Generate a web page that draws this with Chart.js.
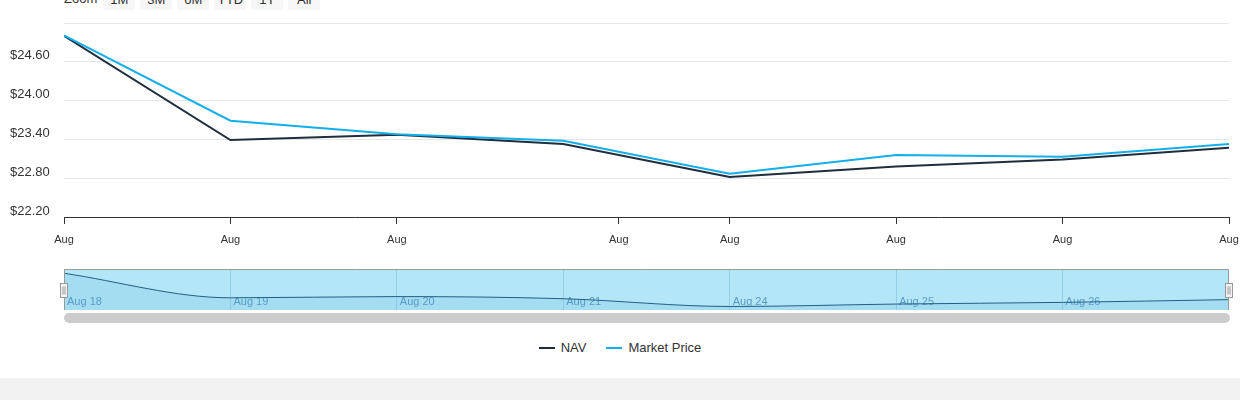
<!DOCTYPE html>
<html>
<head>
<meta charset="utf-8">
<script src="https://cdn.jsdelivr.net/npm/chart.js@4"></script>
<style>
  body { margin: 0; width: 1240px; height: 400px; overflow: hidden; background: #fff;
         font-family: "Liberation Sans", Arial, sans-serif; position: relative; }
  #zoomBar { position: absolute; top: -12px; left: 64px; height: 22px; line-height: 22px;
             font-size: 13px; color: #333; display: flex; }
  #zoomBar span { margin-right: 6px; }
  #zoomBar button { width: 32px; height: 22px; margin-right: 5px; border: 0; border-radius: 2px;
                    background: #f7f7f7; color: #333; font: 13px "Liberation Sans", Arial, sans-serif; padding: 0; }
  #mainWrap { position: absolute; top: 0; left: 0; width: 1240px; height: 255px; }
  #navWrap { position: absolute; top: 269px; left: 0; width: 1240px; height: 41px; }
  #scrollbar { position: absolute; top: 313px; left: 64px; width: 1166px; height: 10px;
               border-radius: 5px; background: #cccccc; }
  #legend { position: absolute; top: 340px; left: 0; width: 1240px; height: 16px;
            display: flex; justify-content: center; font-size: 13px; color: #333; }
  .item { display: flex; align-items: center; margin: 0 10px; line-height: 16px; }
  .item i { display: inline-block; width: 16px; height: 2px; margin-right: 6px; }
  #band { position: absolute; top: 378px; left: 0; width: 1240px; height: 22px; background: #f2f2f2; }
</style>
</head>
<body>
<div id="zoomBar">
  <span>Zoom</span>
  <button>1M</button><button>3M</button><button>6M</button><button>YTD</button><button>1Y</button><button>All</button>
</div>
<div id="mainWrap"><canvas id="chartMain"></canvas></div>
<div id="navWrap"><canvas id="chartNav"></canvas></div>
<div id="scrollbar"></div>
<div id="legend"><span class="item"><i style="background:#1f2d3d"></i>NAV</span><span class="item"><i style="background:#14aee8"></i>Market Price</span></div>
<div id="band"></div>

<script>
// Dados (dias de agosto, eixo ordinal: só dias com cotação)
const days = [18, 19, 20, 21, 24, 25, 26, 27];
const navValues = [25.00, 23.39, 23.47, 23.33, 22.82, 22.98, 23.09, 23.27];
const marketValues = [25.01, 23.69, 23.48, 23.38, 22.87, 23.16, 23.13, 23.33];
const xTickDays = [18, 19, 20, 22, 24, 25, 26, 27];
const navigatorLabelDays = [18, 19, 20, 21, 24, 25, 26];
const yMin = 22.2, yMax = 25.2, yStep = 0.6;

const navColor = "#1f2d3d";
const marketColor = "#14aee8";

// posição ordinal de um dia (interpola entre dias com dados)
function ordinal(day) {
  for (let i = 0; i < days.length - 1; i++) {
    if (day >= days[i] && day <= days[i + 1]) {
      return i + (day - days[i]) / (days[i + 1] - days[i]);
    }
  }
  return days.length - 1;
}
function toPoints(values) {
  return values.map((v, i) => ({ x: i, y: v }));
}

Chart.defaults.font.family = '"Liberation Sans", Arial, sans-serif';
Chart.defaults.color = "#333";

new Chart(document.getElementById("chartMain"), {
  type: "line",
  data: {
    datasets: [
      {
        label: "NAV",
        data: toPoints(navValues),
        borderColor: navColor,
        backgroundColor: navColor,
        borderWidth: 2,
        pointRadius: 0,
        order: 1,
      },
      {
        label: "Market Price",
        data: toPoints(marketValues),
        borderColor: marketColor,
        backgroundColor: marketColor,
        borderWidth: 2,
        pointRadius: 0,
        order: 0,
      },
    ],
  },
  options: {
    responsive: true,
    maintainAspectRatio: false,
    animation: false,
    layout: { padding: { left: 10, right: 11, top: 23, bottom: 0 } },
    plugins: { legend: { display: false }, tooltip: { enabled: false } },
    scales: {
      x: {
        type: "linear",
        min: 0,
        max: days.length - 1,
        afterBuildTicks: (scale) => {
          scale.ticks = xTickDays.map((d) => ({ value: ordinal(d) }));
        },
        afterFit: (scale) => {
          scale.height = 38;
          scale.paddingLeft = 0;
          scale.paddingRight = 0;
        },
        ticks: {
          callback: () => "Aug",
          font: { size: 11 },
          color: "#333",
          padding: 9,
          maxRotation: 0,
          autoSkip: false,
        },
        grid: { drawOnChartArea: false, drawTicks: true, tickLength: 7, tickColor: "#333" },
        border: { color: "#333", width: 1 },
      },
      y: {
        min: yMin,
        max: yMax,
        afterBuildTicks: (scale) => {
          const t = [];
          for (let i = 0; yMin + i * yStep <= yMax + 1e-9; i++) t.push({ value: +(yMin + i * yStep).toFixed(2) });
          scale.ticks = t;
        },
        afterFit: (scale) => { scale.width = 54; },
        ticks: {
          callback: (v) => (Math.abs(v - yMax) < 1e-6 ? "" : "$" + v.toFixed(2)),
          font: { size: 13 },
          color: "#333",
          crossAlign: "far",
          labelOffset: -6,
        },
        grid: { color: "#e6e6e6", drawTicks: false },
        border: { display: false },
      },
    },
  },
});

// Navegador (mini gráfico com máscara e alças)
const navigatorDecor = {
  id: "navigatorDecor",
  beforeDraw(chart) {
    const a = chart.chartArea, ctx = chart.ctx;
    ctx.save();
    ctx.fillStyle = "#b3e6f7";
    ctx.fillRect(a.left, a.top, a.right - a.left, a.bottom - a.top);
    ctx.restore();
  },
  afterDraw(chart) {
    const a = chart.chartArea, ctx = chart.ctx;
    ctx.save();
    ctx.strokeStyle = "#999";
    ctx.lineWidth = 1;
    ctx.beginPath();
    ctx.moveTo(a.left + 0.5, a.bottom);
    ctx.lineTo(a.left + 0.5, a.top + 0.5);
    ctx.lineTo(a.right - 0.5, a.top + 0.5);
    ctx.lineTo(a.right - 0.5, a.bottom);
    ctx.stroke();
    [a.left, a.right].forEach((x) => {
      const hx = Math.round(x) - 3.5, hy = 14.5;
      ctx.fillStyle = "#f2f2f2";
      ctx.fillRect(hx, hy, 7, 14);
      ctx.strokeRect(hx, hy, 7, 14);
      ctx.beginPath();
      ctx.moveTo(hx + 2.5, hy + 3); ctx.lineTo(hx + 2.5, hy + 11);
      ctx.moveTo(hx + 4.5, hy + 3); ctx.lineTo(hx + 4.5, hy + 11);
      ctx.stroke();
    });
    ctx.restore();
  },
};

new Chart(document.getElementById("chartNav"), {
  type: "line",
  data: {
    datasets: [
      {
        label: "NAV",
        data: toPoints(navValues),
        borderColor: "#235f85",
        backgroundColor: "rgba(70, 160, 205, 0.13)",
        borderWidth: 1,
        pointRadius: 0,
        fill: "start",
        cubicInterpolationMode: "monotone",
      },
    ],
  },
  options: {
    responsive: true,
    maintainAspectRatio: false,
    animation: false,
    layout: { padding: { left: 64, right: 11, top: 0, bottom: 0 } },
    plugins: { legend: { display: false }, tooltip: { enabled: false } },
    scales: {
      x: {
        type: "linear",
        min: 0,
        max: days.length - 1,
        afterBuildTicks: (scale) => {
          scale.ticks = navigatorLabelDays.map((d) => ({ value: ordinal(d) }));
        },
        afterFit: (scale) => {
          scale.height = 0;
          scale.paddingLeft = 0;
          scale.paddingRight = 0;
        },
        ticks: {
          callback: (v) => "Aug " + days[Math.round(v)],
          mirror: true,
          align: "start",
          labelOffset: 3,
          padding: 1.5,
          font: { size: 11 },
          color: "#5a9bc6",
          maxRotation: 0,
          autoSkip: false,
        },
        grid: { color: "rgba(95, 165, 205, 0.35)", drawTicks: false },
        border: { display: false },
      },
      y: { display: false, min: 22.59, max: 25.28 },
    },
  },
  plugins: [navigatorDecor],
});
</script>
</body>
</html>
